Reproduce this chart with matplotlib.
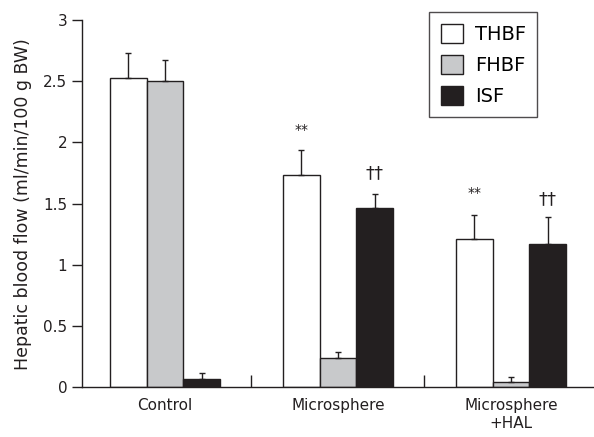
import numpy as np
import matplotlib.pyplot as plt
from matplotlib.patches import Patch

groups = ['Control', 'Microsphere', 'Microsphere\n+HAL']
series = ['THBF', 'FHBF', 'ISF']
thbf = [2.53, 1.73, 1.21]
thbf_err = [0.20, 0.21, 0.20]
fhbf = [2.50, 0.24, 0.045]
fhbf_err = [0.17, 0.045, 0.035]
isf = [0.065, 1.465, 1.17]
isf_err = [0.05, 0.115, 0.22]
marks = [('**', 1, 0, 2.10), ('††', 1, 2, 1.75), ('**', 2, 0, 1.59), ('††', 2, 2, 1.54)]

colors = ['white', '#c8c9cb', '#231f20']
plt.rcParams['font.family'] = ['DejaVu Sans']

fig = plt.figure(figsize=(5.94, 4.37), dpi=100)
ax = fig.add_axes([0.138, 0.114, 0.862, 0.84])

x = np.arange(len(groups))
w = 0.212
vals = [thbf, fhbf, isf]
errs = [thbf_err, fhbf_err, isf_err]
for i, (v, e) in enumerate(zip(vals, errs)):
    ax.bar(x + (i - 1) * w, v, w, color=colors[i], edgecolor='#231f20', linewidth=1,
           yerr=[np.zeros(len(e)), e], capsize=2.5,
           error_kw=dict(ecolor='#231f20', elinewidth=1, capthick=1), zorder=2)

for txt, g, s, y in marks:
    fs = 10 if txt == '**' else 13
    ax.text(x[g] + (s - 1) * w, y, txt, ha='center', va='center', fontsize=fs, color='#231f20')

ax.set_xlim(-0.48, 2.48)
ax.set_ylim(0, 3)
ax.set_yticks([0, 0.5, 1, 1.5, 2, 2.5, 3])
ax.set_yticklabels(['0', '0.5', '1', '1.5', '2', '2.5', '3'])
ax.set_xticks(x)
ax.set_xticklabels(groups, fontsize=11, color='#231f20')
ax.tick_params(axis='x', length=0, pad=8)
ax.set_xticks([0.5, 1.5], minor=True)
ax.tick_params(axis='x', which='minor', direction='in', length=9, width=1, color='#231f20')
ax.tick_params(axis='y', length=7, width=1, labelsize=11, colors='#231f20')
ax.set_ylabel('Hepatic blood flow (ml/min/100 g BW)', fontsize=12.5, color='#231f20', labelpad=8)

for sp in ['top', 'right']:
    ax.spines[sp].set_visible(False)
for sp in ['left', 'bottom']:
    ax.spines[sp].set_color('#231f20')
    ax.spines[sp].set_linewidth(1)

handles = [Patch(facecolor=c, edgecolor='#231f20', linewidth=1) for c in colors]
leg = fig.legend(handles, series, loc='upper left', bbox_to_anchor=(429 / 594, 1 - 12 / 437),
                 fontsize=14, frameon=True, fancybox=False, handlelength=1.15, handleheight=1.15,
                 borderpad=0.6, labelspacing=0.55, handletextpad=0.6, borderaxespad=0)
leg.get_frame().set_edgecolor('#231f20')
leg.get_frame().set_linewidth(1)

fig.savefig('out.png', dpi=100)
